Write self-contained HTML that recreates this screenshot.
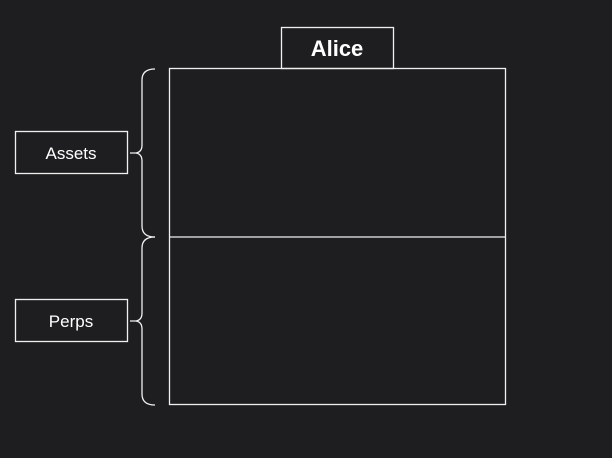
<!DOCTYPE html>
<html><head><style>
html,body{margin:0;padding:0;background:#1e1e20;}
svg{display:block;}
text{font-family:"Liberation Sans",sans-serif;fill:#fff;}
</style></head><body>
<svg width="612" height="458" viewBox="0 0 612 458">
<rect width="612" height="458" fill="#1e1e20"/>
<g fill="none" stroke="#f0f0f0" stroke-width="1.3">
<rect x="169.5" y="68.5" width="336" height="336"/>
<line x1="169.5" y1="237" x2="505.5" y2="237"/>
<rect x="281.5" y="27.5" width="112" height="41"/>
<rect x="15.5" y="131.5" width="112" height="42"/>
<rect x="15.5" y="299.5" width="112" height="42"/>
<path d="M155,69 Q142,69 142,80 L142,145 Q142,152 136,153 L130,153 L136,153 Q142,154 142,161 L142,226 Q142,237 155,237"/>
<path d="M155,237 Q142,237 142,248 L142,313 Q142,320 136,321 L130,321 L136,321 Q142,322 142,329 L142,394 Q142,405 155,405"/>
</g>
<text x="337" y="56" font-size="22" font-weight="bold" text-anchor="middle">Alice</text>
<text x="71" y="159" font-size="17" text-anchor="middle">Assets</text>
<text x="71" y="327" font-size="17" text-anchor="middle">Perps</text>
</svg>
</body></html>
